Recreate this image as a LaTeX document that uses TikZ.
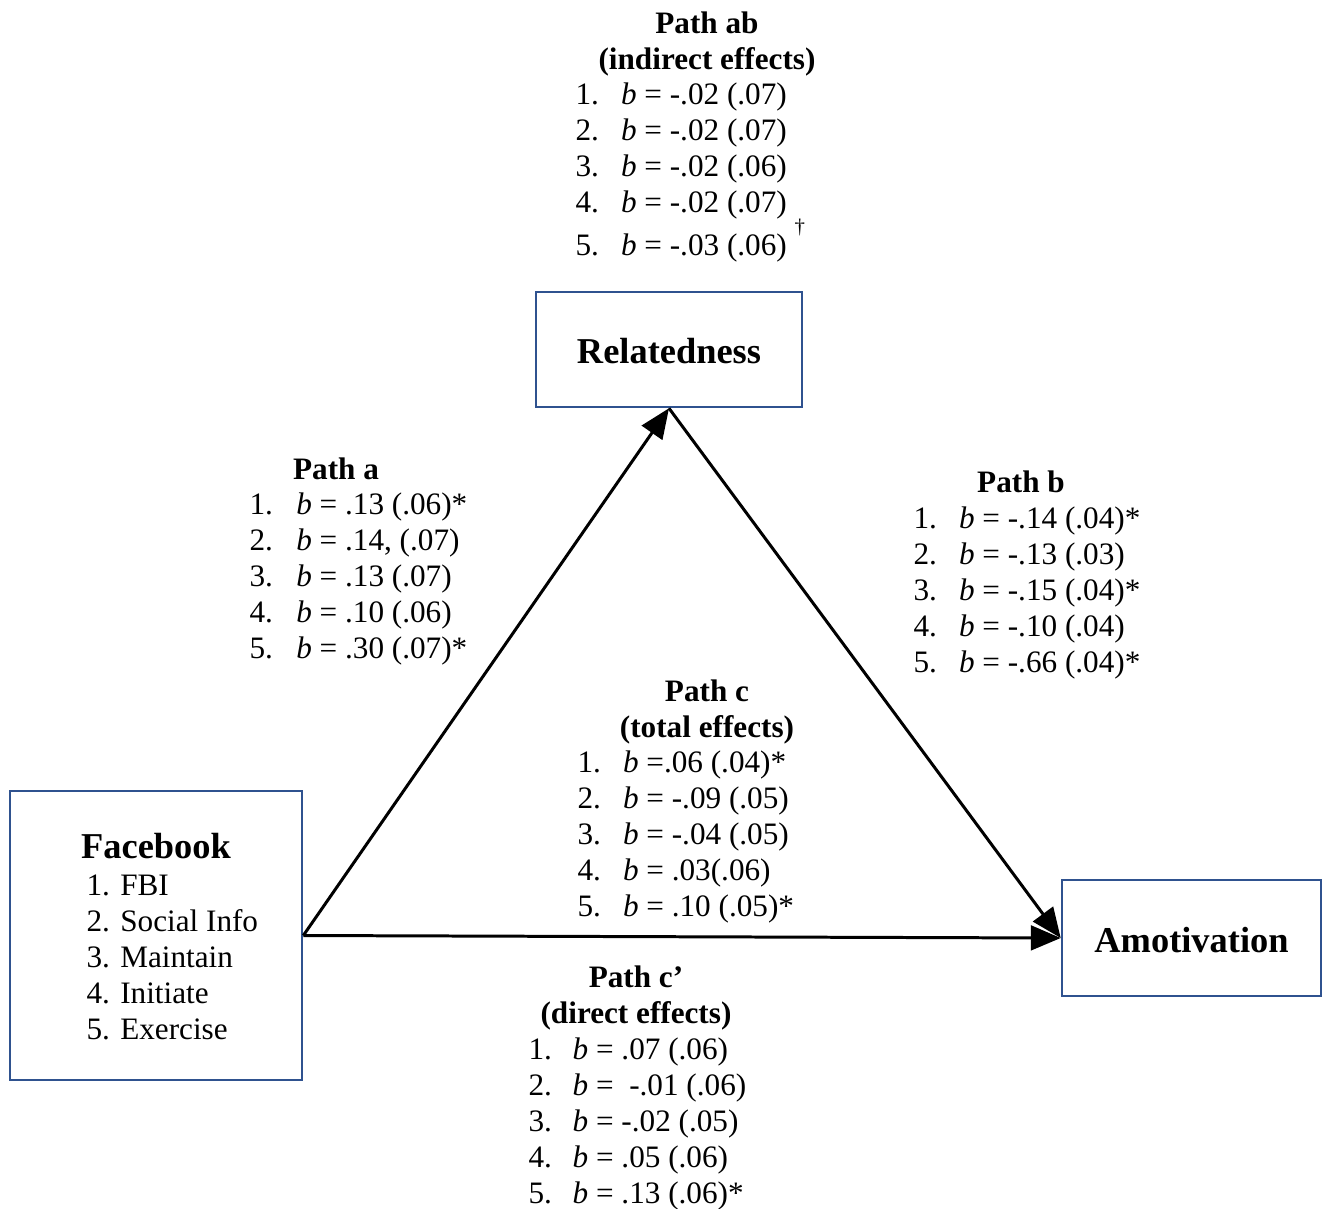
\documentclass[tikz,border=0pt]{standalone}
\usepackage{fontspec}
\setmainfont{Liberation Serif}
\usepackage{tikz}
\usetikzlibrary{arrows.meta}

\definecolor{boxblue}{RGB}{47,82,143}

\tikzset{
    varbox/.style={draw=boxblue,line width=1pt,inner sep=0pt,text height=11pt,font=\fontsize{14}{16}\selectfont\bfseries},
    effect/.style={black,line width=1.15pt,-{Triangle[length=11.5pt,width=9.5pt]}},
    pathhead/.style={inner sep=0pt,anchor=base,font=\fontsize{12}{13.85}\selectfont\bfseries},
    pathlist/.style={inner sep=0pt,anchor=base west,font=\fontsize{12}{13.85}\selectfont}
}

\begin{document}
\begin{tikzpicture}[x=0.3846pt,y=-0.3846pt]
        \useasboundingbox (0,0) rectangle (1322,1208);

        \node[varbox,minimum width=102.3pt,minimum height=44.2pt] (rel) at (669,349.5) {Relatedness};
        \node[varbox,minimum width=112.3pt,minimum height=111.2pt] (fb) at (156,935.5) {};
        \node[varbox,minimum width=99.6pt,minimum height=44.6pt] (amo) at (1191.5,938) {Amotivation};

        \node[pathhead,font=\fontsize{14}{16}\selectfont\bfseries] (fbtitle) at (156,858) {Facebook};
        \node[pathlist] (fblist) at (86,895) {\begin{tabular}[t]{@{}l@{}}
            1. FBI\\ 2. Social Info\\ 3. Maintain\\ 4. Initiate\\ 5. Exercise
        \end{tabular}};

        \draw[effect] (fb.east) -- (rel.south);
        \draw[effect] (rel.south) -- (amo.west);
        \draw[effect] (fb.east) -- (amo.west);

        \node[pathhead] (abhead) at (707,33) {\begin{tabular}[t]{@{}c@{}}Path ab\\ (indirect effects)\end{tabular}};
        \node[pathlist] (ablist) at (575,104) {\begin{tabular}[t]{@{}p{17.5pt}@{}l@{}}
            1. & \textit{b} = -.02 (.07)\\
            2. & \textit{b} = -.02 (.07)\\
            3. & \textit{b} = -.02 (.06)\\
            4. & \textit{b} = -.02 (.07)\\[3pt]
            5. & \textit{b} = -.03 (.06)\hspace{3pt}\smash{\raisebox{8.6pt}{\fontsize{8}{9}\selectfont\textdagger}}
        \end{tabular}};

        \node[pathhead] (ahead) at (336,479) {Path a};
        \node[pathlist] (alist) at (249,514) {\begin{tabular}[t]{@{}p{18pt}@{}l@{}}
            1. & \textit{b} = .13 (.06)*\\
            2. & \textit{b} = .14, (.07)\\
            3. & \textit{b} = .13 (.07)\\
            4. & \textit{b} = .10 (.06)\\
            5. & \textit{b} = .30 (.07)*
        \end{tabular}};

        \node[pathhead] (bhead) at (1021,492) {Path b};
        \node[pathlist] (blist) at (913,528) {\begin{tabular}[t]{@{}p{17.5pt}@{}l@{}}
            1. & \textit{b} = -.14 (.04)*\\
            2. & \textit{b} = -.13 (.03)\\
            3. & \textit{b} = -.15 (.04)*\\
            4. & \textit{b} = -.10 (.04)\\
            5. & \textit{b} = -.66 (.04)*
        \end{tabular}};

        \node[pathhead] (chead) at (707,701) {\begin{tabular}[t]{@{}c@{}}Path c\\ (total effects)\end{tabular}};
        \node[pathlist] (clist) at (577,772) {\begin{tabular}[t]{@{}p{17.5pt}@{}l@{}}
            1. & \textit{b} =.06 (.04)*\\
            2. & \textit{b} = -.09 (.05)\\
            3. & \textit{b} = -.04 (.05)\\
            4. & \textit{b} = .03(.06)\\
            5. & \textit{b} = .10 (.05)*
        \end{tabular}};

        \node[pathhead] (dhead) at (636,987) {\begin{tabular}[t]{@{}c@{}}Path c’\\ (direct effects)\end{tabular}};
        \node[pathlist] (dlist) at (528,1059) {\begin{tabular}[t]{@{}p{17pt}@{}l@{}}
            1. & \textit{b} = .07 (.06)\\
            2. & \textit{b} = \ -.01 (.06)\\
            3. & \textit{b} = -.02 (.05)\\
            4. & \textit{b} = .05 (.06)\\
            5. & \textit{b} = .13 (.06)*
        \end{tabular}};
    \end{tikzpicture}
\end{document}
